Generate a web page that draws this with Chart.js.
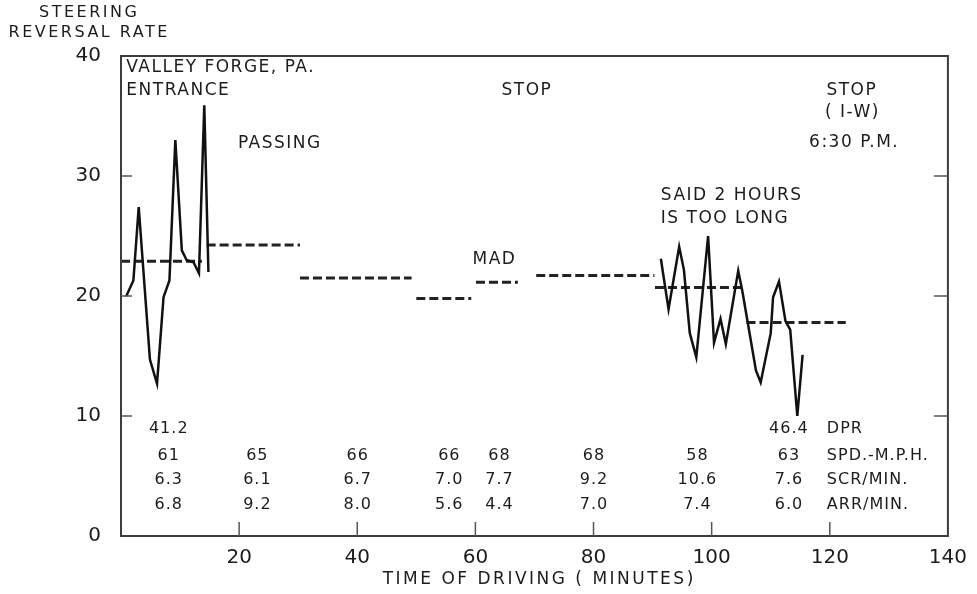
<!DOCTYPE html>
<html>
<head>
<meta charset="utf-8">
<title>Steering reversal rate</title>
<script src="https://cdn.jsdelivr.net/npm/chart.js@4.4.1/dist/chart.umd.min.js"></script>
<style>
  html, body { margin: 0; padding: 0; background: #fff; }
  #wrap { width: 977px; height: 594px; }
</style>
</head>
<body>
<div id="wrap"><canvas id="steerChart" width="977" height="594"></canvas></div>
<script>
// Steering reversal rate, solid trace at the start of the drive
var earlyMinutes = [0.9, 2.1, 3.0, 4.9, 6.1, 7.2, 8.2, 9.2, 10.3, 11.1, 12.3, 13.2, 14.1, 14.8];
var earlyRate = [20.0, 21.3, 27.4, 14.7, 12.7, 19.9, 21.3, 33.0, 23.8, 23.0, 22.8, 21.9, 35.9, 22.0];

// Solid trace near the end of the drive
var lateMinutes = [91.4, 92.7, 94.5, 95.3, 96.3, 97.4, 99.4, 100.4, 101.5, 102.4, 104.5, 105.2, 107.5, 108.3, 110.0, 110.4, 111.4, 112.5, 113.3, 114.5, 115.4];
var lateRate = [23.1, 18.9, 24.1, 22.2, 16.9, 14.9, 25.0, 16.1, 18.1, 16.0, 22.1, 20.4, 13.8, 12.8, 16.9, 19.9, 21.2, 17.9, 17.2, 10.0, 15.1];

// Dashed segment averages
var meanStart = [0, 14.5, 30.3, 50.0, 60.1, 70.3, 90.4, 105.9];
var meanEnd = [13.7, 30.3, 49.2, 59.3, 67.2, 90.3, 105.1, 122.7];
var meanRate = [22.9, 24.25, 21.5, 19.8, 21.15, 21.7, 20.7, 17.8];

// Table printed along the bottom of the plot
var tableMinutes = [8, 23, 40, 55.5, 64, 80, 97.5, 113];
var dprRow = ["41.2", "", "", "", "", "", "", "46.4"];
var spdRow = ["61", "65", "66", "66", "68", "68", "58", "63"];
var scrRow = ["6.3", "6.1", "6.7", "7.0", "7.7", "9.2", "10.6", "7.6"];
var arrRow = ["6.8", "9.2", "8.0", "5.6", "4.4", "7.0", "7.4", "6.0"];
var rowLabels = ["DPR", "SPD.-M.P.H.", "SCR/MIN.", "ARR/MIN."];
var rowLevels = [8.9, 6.67, 4.67, 2.58];
var rowLabelMinute = 119.5;

// Axis ticks
var xTicks = [20, 40, 60, 80, 100, 120, 140];
var yTicks = [0, 10, 20, 30, 40];

// Notes written inside the plot: text, minute, rate, alignment
var notes = [
    ["VALLEY FORGE, PA.", 0.9, 39.0, "left"],
    ["ENTRANCE", 0.9, 37.15, "left"],
    ["PASSING", 19.8, 32.67, "left"],
    ["STOP", 68.6, 37.15, "center"],
    ["STOP", 123.6, 37.15, "center"],
    ["( I-W)", 123.7, 35.25, "center"],
    ["6:30 P.M.", 124.0, 32.75, "center"],
    ["SAID 2 HOURS", 91.4, 28.33, "left"],
    ["IS TOO LONG", 91.4, 26.46, "left"],
    ["MAD", 63.1, 23.0, "center"]
];

var INK = "#1c1c1c";
var FONT = '"DejaVu Sans", "Liberation Sans", sans-serif';

function toPoints(xs, ys) {
    return xs.map(function(x, i) { return { x: x, y: ys[i] }; });
}

var datasets = [
    { data: toPoints(earlyMinutes, earlyRate), borderColor: "#111", borderWidth: 2.5 },
    { data: toPoints(lateMinutes, lateRate), borderColor: "#111", borderWidth: 2.5 }
];
meanRate.forEach(function(v, i) {
    datasets.push({
        data: [{ x: meanStart[i], y: v }, { x: meanEnd[i], y: v }],
        borderColor: "#222",
        borderWidth: 3,
        borderDash: [9, 4]
    });
});
datasets.forEach(function(d) {
    d.pointRadius = 0;
    d.tension = 0;
    d.fill = false;
    d.borderCapStyle = "butt";
});

function drawText(ctx, text, x, y, align, size, spacing) {
    ctx.font = size + "px " + FONT;
    ctx.letterSpacing = spacing + "px";
    ctx.textAlign = align;
    ctx.textBaseline = "middle";
    ctx.fillStyle = INK;
    // letterSpacing leaves a trailing gap, compensate when centring
    var dx = align === "center" ? spacing / 2 : 0;
    ctx.fillText(text, x + dx, y);
}

// Frame, inward ticks, notes, table and axis titles
var decorations = {
    id: "decorations",
    afterDraw: function(chart) {
        var ctx = chart.ctx;
        var a = chart.chartArea;
        var xs = chart.scales.x;
        var ys = chart.scales.y;
        ctx.save();

        ctx.strokeStyle = "#3c3c3c";
        ctx.lineWidth = 2;
        ctx.strokeRect(a.left, a.top, a.right - a.left, a.bottom - a.top);

        ctx.lineWidth = 1.5;
        ctx.strokeStyle = "#555";
        ctx.beginPath();
        yTicks.forEach(function(v) {
            if (v === 0 || v === 40) return;
            var py = ys.getPixelForValue(v);
            ctx.moveTo(a.left, py); ctx.lineTo(a.left + 11, py);
            ctx.moveTo(a.right, py); ctx.lineTo(a.right - 14, py);
        });
        xTicks.forEach(function(v) {
            if (v === 140) return;
            var px = xs.getPixelForValue(v);
            ctx.moveTo(px, a.bottom); ctx.lineTo(px, a.bottom - 14);
        });
        ctx.stroke();

        notes.forEach(function(n) {
            drawText(ctx, n[0], xs.getPixelForValue(n[1]), ys.getPixelForValue(n[2]), n[3], 17, 1.5);
        });

        var rows = [dprRow, spdRow, scrRow, arrRow];
        rows.forEach(function(row, r) {
            var py = ys.getPixelForValue(rowLevels[r]);
            row.forEach(function(txt, c) {
                if (!txt) return;
                drawText(ctx, txt, xs.getPixelForValue(tableMinutes[c]), py, "center", 16, 1);
            });
            drawText(ctx, rowLabels[r], xs.getPixelForValue(rowLabelMinute), py, "left", 16, 1);
        });

        drawText(ctx, "STEERING", 88, 13, "center", 16, 2.5);
        drawText(ctx, "REVERSAL RATE", 88, 33, "center", 16, 2.5);
        drawText(ctx, "TIME OF DRIVING ( MINUTES)", 538, 580, "center", 17, 2.5);

        ctx.restore();
    }
};

var chart = new Chart(document.getElementById("steerChart"), {
    type: "line",
    data: { datasets: datasets },
    plugins: [decorations],
    options: {
        responsive: false,
        animation: false,
        devicePixelRatio: 1,
        layout: { padding: { top: 56, right: 29, left: 0, bottom: 0 } },
        plugins: { legend: { display: false }, tooltip: { enabled: false } },
        scales: {
            x: {
                type: "linear",
                min: 0,
                max: 140,
                afterBuildTicks: function(s) {
                    s.ticks = xTicks.map(function(v) { return { value: v }; });
                },
                afterFit: function(s) { s.height = 58; },
                grid: { display: false, drawTicks: false },
                border: { display: false },
                ticks: {
                    color: INK,
                    padding: 10,
                    maxRotation: 0,
                    autoSkip: false,
                    font: { family: FONT, size: 20 }
                }
            },
            y: {
                min: 0,
                max: 40,
                afterBuildTicks: function(s) {
                    s.ticks = yTicks.map(function(v) { return { value: v }; });
                },
                afterFit: function(s) { s.width = 121; },
                grid: { display: false, drawTicks: false },
                border: { display: false },
                ticks: {
                    color: INK,
                    padding: 20,
                    font: { family: FONT, size: 20 }
                }
            }
        }
    }
});
</script>
</body>
</html>
